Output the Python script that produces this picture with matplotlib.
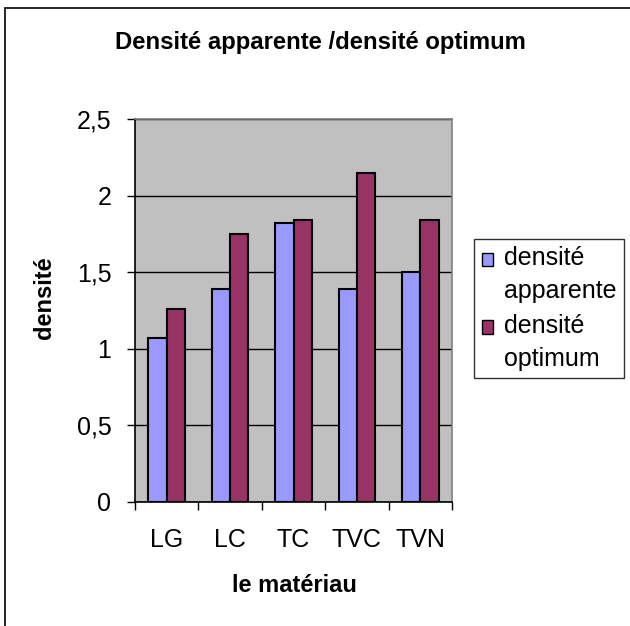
import numpy as np
import matplotlib
matplotlib.use('Agg')
import matplotlib.pyplot as plt
from matplotlib.patches import Rectangle
from matplotlib.legend_handler import HandlerPatch

plt.rcParams['font.family'] = ['Liberation Sans', 'DejaVu Sans']

materiaux = ['LG', 'LC', 'TC', 'TVC', 'TVN']
densite_apparente = [1.07, 1.39, 1.82, 1.39, 1.50]
densite_optimum = [1.26, 1.75, 1.84, 2.15, 1.84]
yticks = [0, 0.5, 1, 1.5, 2, 2.5]
ytick_labels = ['0', '0,5', '1', '1,5', '2', '2,5']
series = ['densité\napparente', 'densité\noptimum']
couleurs = ['#9999FF', '#993366']

W, H = 630, 626
fig = plt.figure(figsize=(W / 100, H / 100), dpi=100)
ax = fig.add_axes([135 / W, 1 - 501.7 / H, 317 / W, 382.2 / H])
ax.set_facecolor('#C0C0C0')

x = np.arange(len(materiaux))
w = 0.29
ax.bar(x - w / 2, densite_apparente, w, color=couleurs[0], edgecolor='black',
       linewidth=1.5, zorder=3)
ax.bar(x + w / 2, densite_optimum, w, color=couleurs[1], edgecolor='black',
       linewidth=1.5, zorder=3)

ax.set_xlim(-0.5, len(materiaux) - 0.5)
ax.set_ylim(0, 2.5)
ax.set_yticks(yticks)
ax.set_yticklabels(ytick_labels, fontsize=18)
ax.set_xticks(np.arange(len(materiaux) + 1) - 0.5)
ax.set_xticklabels([])
ax.set_xticks(x, minor=True)
ax.set_xticklabels(materiaux, minor=True, fontsize=18)
ax.tick_params(axis='x', which='minor', length=0, pad=19)
ax.tick_params(axis='x', which='major', length=6, width=1, direction='out')
ax.tick_params(axis='y', length=6, width=1, direction='out', pad=11)
ax.yaxis.grid(True, color='black', linewidth=1, zorder=1)
ax.set_axisbelow(True)

for s in ['left', 'bottom']:
    ax.spines[s].set_color('black')
    ax.spines[s].set_linewidth(1.2)
for s in ['top', 'right']:
    ax.spines[s].set_color('#808080')
    ax.spines[s].set_linewidth(1.2)

fig.text(320 / W, 1 - 42 / H, 'Densité apparente /densité optimum',
         ha='center', va='center', fontsize=17.2, fontweight='bold')
fig.text(294 / W, 1 - 586 / H, 'le matériau', ha='center', va='center',
         fontsize=17, fontweight='bold')
fig.text(45 / W, 1 - 298 / H, 'densité', ha='center', va='center',
         rotation=90, fontsize=17, fontweight='bold')


# carré de légende aligné sur la première ligne du texte
def carre_haut(legend, orig_handle, xdescent, ydescent, width, height, fontsize):
    return Rectangle((-xdescent, -ydescent + 11.5), width, height)


handles = [Rectangle((0, 0), 1, 1, facecolor=c, edgecolor='black', linewidth=1)
           for c in couleurs]
leg = ax.legend(handles, series, loc='upper left',
                bbox_to_anchor=(474 / W, 1 - 239 / H),
                bbox_transform=fig.transFigure, fontsize=18, frameon=True,
                fancybox=False, edgecolor='black', handlelength=0.45,
                handleheight=0.45, handletextpad=0.45, borderpad=0.3,
                labelspacing=0.45, borderaxespad=0,
                handler_map={Rectangle: HandlerPatch(patch_func=carre_haut)})
leg.get_frame().set_linewidth(1)
for t in leg.get_texts():
    t.set_linespacing(1.45)

fig.patches.append(Rectangle((5 / W, -0.1), 1.2, 1.1 - 8 / H, fill=False,
                             edgecolor='black', linewidth=1.2,
                             transform=fig.transFigure, figure=fig))

fig.savefig('out.png', dpi=100)
